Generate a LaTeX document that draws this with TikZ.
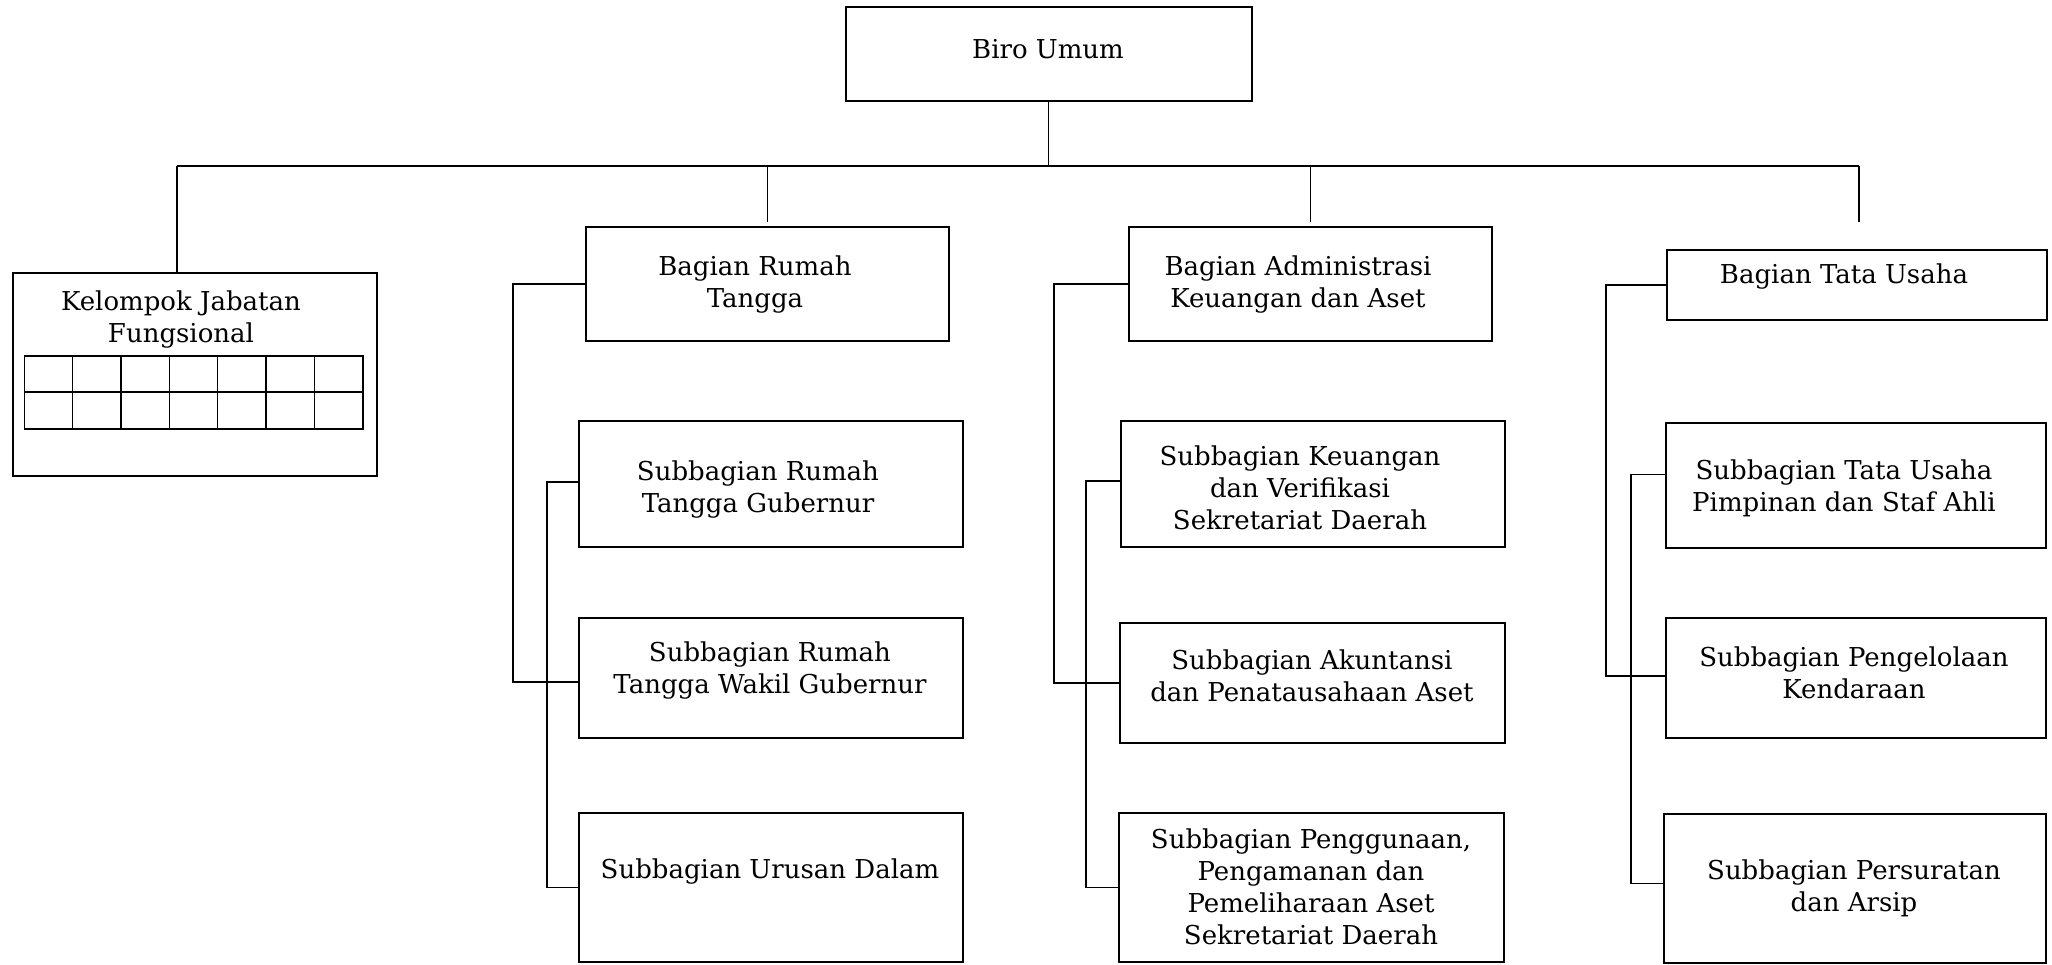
\documentclass[tikz,border=0pt]{standalone}
\usepackage{fontspec}
\setmainfont{DejaVu Serif}
\usetikzlibrary{calc}
\begin{document}
\begin{tikzpicture}[x=1pt,y=-1pt,
  box/.style={draw, line width=2.2pt, rectangle, inner sep=0pt, outer sep=0pt},
  conn/.style={line width=1.5pt},
  lbl/.style={align=center, inner sep=0pt, font=\fontsize{26}{32}\selectfont},
  gridline/.style={line width=1.6pt}]
\useasboundingbox (0,0) rectangle (2052,964);
\fill[white] (0,0) rectangle (2052,964);

% boxes
\node[box, minimum width=406pt, minimum height=94pt] (biro) at (1048.7,54) {};
\node[box, minimum width=364pt, minimum height=203pt] (kjf) at (194.7,374.5) {};
\node[box, minimum width=363pt, minimum height=114pt] (brt) at (767.5,284) {};
\node[box, minimum width=384pt, minimum height=126pt] (gub) at (771,484) {};
\node[box, minimum width=384pt, minimum height=120pt] (wak) at (771,678) {};
\node[box, minimum width=384pt, minimum height=149pt] (uru) at (771,887.5) {};
\node[box, minimum width=363pt, minimum height=114pt] (adm) at (1310.5,284) {};
\node[box, minimum width=384pt, minimum height=126pt] (keu) at (1313,484) {};
\node[box, minimum width=385pt, minimum height=120pt] (aku) at (1312.5,683) {};
\node[box, minimum width=385pt, minimum height=149pt] (pen) at (1311.5,887.5) {};
\node[box, minimum width=380pt, minimum height=70pt] (tu) at (1857,285) {};
\node[box, minimum width=380pt, minimum height=125pt] (pim) at (1856,485.5) {};
\node[box, minimum width=380pt, minimum height=120pt] (pgl) at (1856,678) {};
\node[box, minimum width=382pt, minimum height=149pt] (prs) at (1855,888.5) {};

% texts
\node[lbl] (biroT) at (1048,49) {Biro Umum};
\node[lbl] (kjfT) at (181,319.5) {Kelompok Jabatan\\Fungsional};
\node[lbl] (brtT) at (755,284.5) {Bagian Rumah\\Tangga};
\node[lbl] (admT) at (1298,284.5) {Bagian Administrasi\\Keuangan dan Aset};
\node[lbl] (tuT) at (1844,277) {Bagian Tata Usaha};
\node[lbl] (gubT) at (758,490) {Subbagian Rumah\\Tangga Gubernur};
\node[lbl] (wakT) at (770,670) {Subbagian Rumah\\Tangga Wakil Gubernur};
\node[lbl] (uruT) at (770,871) {Subbagian Urusan Dalam};
\node[lbl] (keuT) at (1300,488) {Subbagian Keuangan\\dan Verifikasi\\Sekretariat Daerah};
\node[lbl] (akuT) at (1312,676) {Subbagian Akuntansi\\dan Penatausahaan Aset};
\node[lbl] (penT) at (1311,887) {Subbagian Penggunaan,\\Pengamanan dan\\Pemeliharaan Aset\\Sekretariat Daerah};
\node[lbl] (pimT) at (1844,488) {Subbagian Tata Usaha\\Pimpinan dan Staf Ahli};
\node[lbl] (pglT) at (1854,673) {Subbagian Pengelolaan\\Kendaraan};
\node[lbl] (prsT) at (1854,888.5) {Subbagian Persuratan\\dan Arsip};

% grid inside Kelompok Jabatan Fungsional
\draw[gridline] (24.3,355.7) rectangle (362.7,429);
\draw[gridline] (24.3,392) -- (362.7,392);
\foreach \k in {1,...,6} {
  \draw[gridline] ({24.3+\k*48.34},355.7) -- ({24.3+\k*48.34},429);
}

% top-level connectors
\coordinate (busL) at (177,166);
\coordinate (busR) at (1859,166);
\coordinate (brtTop) at (767.5,222);
\coordinate (admTop) at (1310.5,222);
\coordinate (tuTop) at (1859,222);
\draw[conn] (biro.south) -- (biro.south |- busL);
\draw[conn] (busL) -- (busR);
\draw[conn] (busL) -- (busL |- kjf.north);
\draw[conn] (brtTop |- busL) -- (brtTop);
\draw[conn] (admTop |- busL) -- (admTop);
\draw[conn] (busR) -- (tuTop);

% Bagian Rumah Tangga
\draw[conn] (brt.west) -- ++(-73,0) |- ($(wak.west)+(0,4)$);
\draw[conn] (gub.west) ++(0,-2) -- ++(-32,0) |- (uru.west);
% Bagian Administrasi
\draw[conn] (adm.west) -- ++(-75,0) |- (aku.west);
\draw[conn] (keu.west) ++(0,-3) -- ++(-35,0) |- (pen.west);
% Bagian Tata Usaha
\draw[conn] (tu.west) -- ++(-61,0) |- ($(pgl.west)+(0,-2)$);
\draw[conn] (pim.west) ++(0,-11) -- ++(-35,0) |- ($(prs.west)+(0,-5)$);
\end{tikzpicture}
\end{document}
